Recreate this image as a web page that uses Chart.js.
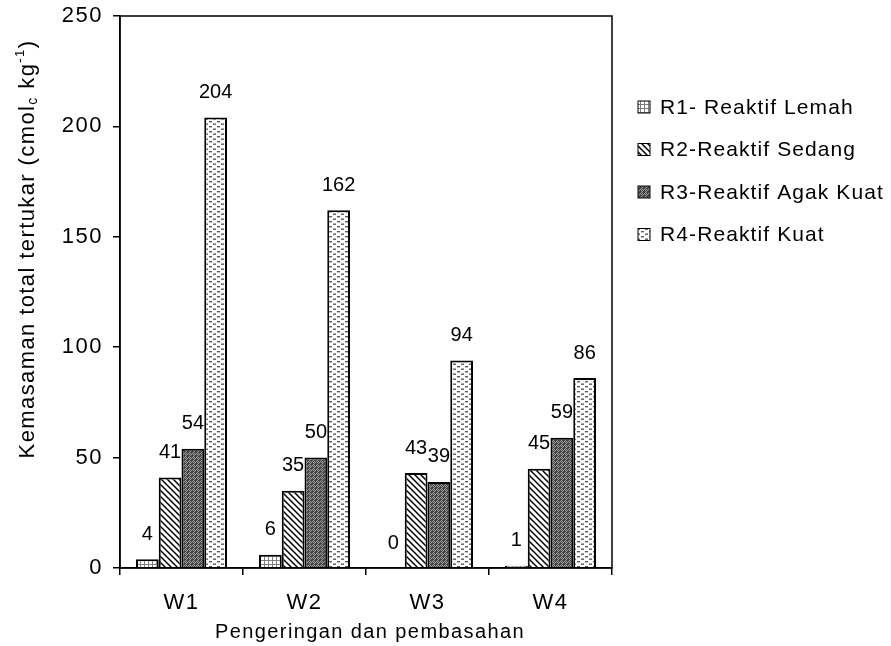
<!DOCTYPE html>
<html>
<head>
<meta charset="utf-8">
<script src="https://cdn.jsdelivr.net/npm/chart.js@4"></script>
<style>
  html, body { margin: 0; padding: 0; background: #fff; }
  #wrap { width: 891px; height: 646px; }
</style>
</head>
<body>
<div id="wrap"><canvas id="chart" width="891" height="646"></canvas></div>
<script>
const categories = ['W1', 'W2', 'W3', 'W4'];
const seriesNames = ['R1- Reaktif Lemah', 'R2-Reaktif Sedang', 'R3-Reaktif Agak Kuat', 'R4-Reaktif Kuat'];
const r1Values = [4, 6, 0, 1];
const r2Values = [41, 35, 43, 45];
const r3Values = [54, 50, 39, 59];
const r4Values = [204, 162, 94, 86];
const yTicks = [0, 50, 100, 150, 200, 250];
const xTitle = 'Pengeringan dan pembasahan';

const FONT = 'Liberation Sans, Arial, sans-serif';

// small canvas tiles used as fill patterns
function makePattern(w, h, draw) {
  const c = document.createElement('canvas');
  c.width = w; c.height = h;
  const g = c.getContext('2d');
  draw(g, w, h);
  return g.createPattern(c, 'repeat');
}

const ctx = document.getElementById('chart').getContext('2d');

const patDots = makePattern(4, 4, (g) => {
  g.fillStyle = '#fff'; g.fillRect(0, 0, 4, 4);
  g.fillStyle = '#808080';
  g.fillRect(0, 0, 4, 1);
  g.fillRect(0, 0, 1, 4);
});
const patDiag = makePattern(6, 6, (g) => {
  g.fillStyle = '#fff'; g.fillRect(0, 0, 6, 6);
  g.strokeStyle = '#000'; g.lineWidth = 1.5;
  g.beginPath();
  g.moveTo(-1, -1); g.lineTo(7, 7);
  g.moveTo(-7, -1); g.lineTo(1, 7);
  g.moveTo(5, -1); g.lineTo(13, 7);
  g.stroke();
});
const patDark = makePattern(4, 4, (g) => {
  g.fillStyle = '#454545'; g.fillRect(0, 0, 4, 4);
  g.fillStyle = '#9a9a9a';
  g.fillRect(1, 0, 1, 1); g.fillRect(0, 1, 1, 1); g.fillRect(2, 1, 1, 1);
  g.fillRect(1, 2, 1, 1);
  g.fillRect(3, 2, 1, 1); g.fillRect(2, 3, 1, 1);
});
const patDash = makePattern(8, 5, (g) => {
  g.fillStyle = '#fff'; g.fillRect(0, 0, 8, 5);
  g.fillStyle = '#5a5a5a';
  g.fillRect(1, 1, 3, 1.4);
  g.fillRect(5, 3.5, 3, 1.4);
});

const patterns = [patDots, patDiag, patDark, patDash];
const values = [r1Values, r2Values, r3Values, r4Values];

const extras = {
  id: 'extras',
  beforeDraw(chart) {
    // the original uses a slightly spaced-out font for the axis ticks
    chart.ctx.letterSpacing = '1.5px';
  },
  afterDraw(chart) {
    const c = chart.ctx;
    const a = chart.chartArea;
    c.save();
    // box around the plot
    c.strokeStyle = '#000';
    c.lineWidth = 1.5;
    c.strokeRect(a.left, a.top, a.right - a.left, a.bottom - a.top);

    // value labels above bars
    c.letterSpacing = '0px';
    c.fillStyle = '#000';
    c.font = '20px ' + FONT;
    c.textAlign = 'center';
    c.textBaseline = 'middle';
    chart.data.datasets.forEach((ds, i) => {
      chart.getDatasetMeta(i).data.forEach((bar, j) => {
        c.fillText(String(ds.data[j]), bar.x, bar.y - 25);
      });
    });

    // x axis title
    c.letterSpacing = '1.4px';
    c.font = '20px ' + FONT;
    c.fillText(xTitle, (a.left + a.right) / 2 + 4, 632);

    // legend
    c.textAlign = 'left';
    c.letterSpacing = '1.1px';
    c.font = '21px ' + FONT;
    chart.data.datasets.forEach((ds, i) => {
      const y = 107 + i * 42.5;
      c.fillStyle = ds.backgroundColor;
      c.fillRect(638, y - 6, 12, 12);
      c.strokeStyle = '#000';
      c.lineWidth = 1;
      c.strokeRect(638, y - 6, 12, 12);
      c.fillStyle = '#000';
      c.fillText(ds.label, 660, y + 1);
    });

    // y axis title with subscript and superscript
    c.translate(28, 249);
    c.rotate(-Math.PI / 2);
    c.letterSpacing = '1.4px';
    const parts = [
      { t: 'Kemasaman total tertukar (cmol', s: 22, dy: 0 },
      { t: 'c', s: 14, dy: 5 },
      { t: ' kg', s: 22, dy: 0 },
      { t: '-1', s: 13, dy: -8 },
      { t: ')', s: 22, dy: 0 }
    ];
    let total = 0;
    parts.forEach(p => { c.font = p.s + 'px ' + FONT; total += c.measureText(p.t).width; });
    let x = -total / 2;
    c.textBaseline = 'middle';
    parts.forEach(p => {
      c.font = p.s + 'px ' + FONT;
      c.fillText(p.t, x, p.dy);
      x += c.measureText(p.t).width;
    });
    c.restore();
  }
};

new Chart(ctx, {
  type: 'bar',
  data: {
    labels: categories,
    datasets: seriesNames.map((name, i) => ({
      label: name,
      data: values[i],
      backgroundColor: patterns[i],
      borderColor: '#000',
      borderWidth: 2,
      borderSkipped: 'bottom'
    }))
  },
  options: {
    responsive: false,
    animation: false,
    events: [],
    layout: { padding: { top: 16, right: 279, left: 0, bottom: 0 } },
    datasets: { bar: { categoryPercentage: 0.74, barPercentage: 1 } },
    plugins: { legend: { display: false }, tooltip: { enabled: false } },
    scales: {
      x: {
        afterFit: (s) => { s.height = 78; s.paddingLeft = 0; s.paddingRight = 0; },
        grid: { display: true, drawOnChartArea: false, offset: true, tickLength: 7, color: '#000', lineWidth: 1.5 },
        border: { display: true, color: '#000', width: 1.5 },
        ticks: { color: '#000', font: { family: FONT, size: 22 }, padding: 15 }
      },
      y: {
        min: 0, max: 250,
        afterFit: (s) => { s.width = 120; s.paddingTop = 0; s.paddingBottom = 0; },
        afterBuildTicks: (s) => { s.ticks = yTicks.map(v => ({ value: v })); },
        grid: { display: true, drawOnChartArea: false, tickLength: 7, color: '#000', lineWidth: 1.5 },
        border: { display: true, color: '#000', width: 1.5 },
        ticks: { color: '#000', font: { family: FONT, size: 22 }, padding: 10 }
      }
    }
  },
  plugins: [extras]
});
</script>
</body>
</html>
